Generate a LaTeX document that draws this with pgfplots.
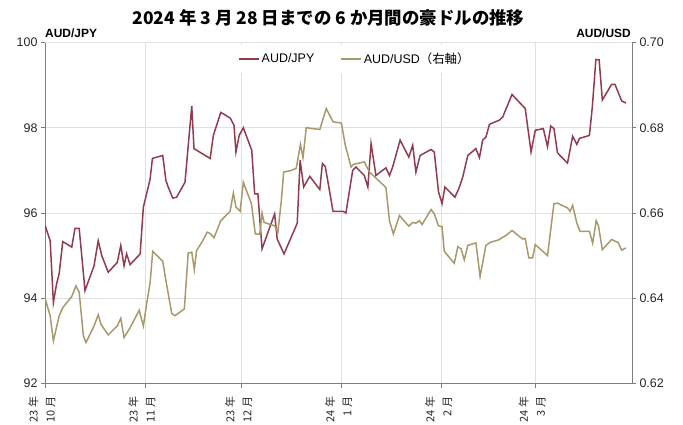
\documentclass[border=0pt]{standalone}
\usepackage{fontspec}
\setmainfont{Liberation Sans}
\newfontfamily\jp{Noto Sans CJK JP}
\usepackage{pgfplots}
\usepackage{pgfplotstable}
\pgfplotsset{compat=1.18}
\definecolor{jpy}{RGB}{145,60,78}
\definecolor{usd}{RGB}{168,153,108}
\definecolor{gridc}{RGB}{224,224,224}
\definecolor{axc}{RGB}{125,125,125}

\pgfplotstableread{
d v
0.0 95.71
1.6 95.35
2.6 93.90
3.6 94.34
4.4 94.58
5.5 95.33
8.3 95.20
9.3 95.64
10.6 95.64
12.4 94.18
15.2 94.76
16.5 95.35
17.6 95.00
19.6 94.61
22.4 94.84
23.5 95.24
24.5 94.76
25.3 95.04
26.4 94.79
29.5 95.04
30.5 96.14
31.5 96.45
32.6 96.80
33.3 97.28
36.5 97.35
37.5 96.76
38.2 96.61
39.6 96.35
40.8 96.37
43.4 96.72
45.5 98.51
46.2 97.51
51.2 97.28
52.2 97.82
54.5 98.36
57.4 98.23
58.6 98.06
59.2 97.43
60.2 97.82
61.5 98.00
64.1 97.47
65.0 96.45
66.0 96.45
67.3 95.16
71.2 95.98
72.0 95.39
74.1 95.04
78.2 95.76
79.1 97.24
80.2 96.61
82.1 96.86
85.2 96.55
86.0 97.16
86.9 97.09
89.3 96.04
92.4 96.04
93.3 96.00
95.4 97.00
96.4 97.08
99.0 96.88
100.1 96.61
101.1 97.63
102.6 96.88
105.7 97.06
106.8 96.88
107.8 97.08
110.1 97.71
112.8 97.31
114.0 97.59
115.0 96.96
116.3 97.35
119.7 97.49
120.7 97.43
122.0 96.50
123.1 96.22
124.0 96.61
127.1 96.37
128.5 96.61
129.5 96.84
131.1 97.35
133.6 97.51
134.7 97.30
135.7 97.71
136.7 97.78
137.8 98.08
140.9 98.18
141.9 98.25
144.8 98.78
148.9 98.45
150.7 97.43
152.0 97.94
154.5 97.98
155.8 97.56
156.8 98.04
157.8 97.98
158.9 97.41
162.0 97.17
163.6 97.80
164.9 97.61
165.7 97.75
168.8 97.82
169.7 98.49
170.8 99.60
171.8 99.60
172.8 98.65
175.7 99.02
176.7 99.02
178.8 98.63
180.1 98.58
}\jpydata

\pgfplotstableread{
d v
0.0 0.6400
1.6 0.6359
2.6 0.6300
4.4 0.6359
5.5 0.6378
8.3 0.6404
9.6 0.6429
10.6 0.6414
11.9 0.6312
12.7 0.6296
15.2 0.6335
16.5 0.6361
17.4 0.6338
19.6 0.6314
22.4 0.6335
23.5 0.6353
24.5 0.6308
26.4 0.6331
29.2 0.6372
30.5 0.6335
31.5 0.6386
32.6 0.6437
33.4 0.6510
36.5 0.6487
37.5 0.6441
39.3 0.6364
40.3 0.6359
43.2 0.6375
44.4 0.6506
45.5 0.6508
46.3 0.6467
47.0 0.6512
48.6 0.6531
50.3 0.6555
51.2 0.6552
52.4 0.6542
54.5 0.6582
57.4 0.6604
58.4 0.6647
59.2 0.6614
60.5 0.6604
61.5 0.6672
64.0 0.6622
65.2 0.6551
66.6 0.6550
67.3 0.6600
67.9 0.6578
69.1 0.6575
71.2 0.6570
72.2 0.6555
73.3 0.6631
74.0 0.6696
76.4 0.6700
77.9 0.6705
79.2 0.6761
80.0 0.6730
81.0 0.6800
85.2 0.6796
87.2 0.6845
89.3 0.6814
91.9 0.6811
93.1 0.6759
94.9 0.6708
95.6 0.6714
99.0 0.6720
100.6 0.6696
105.7 0.6660
106.8 0.6582
108.0 0.6551
109.9 0.6594
112.8 0.6569
114.0 0.6578
115.0 0.6576
116.1 0.6582
116.9 0.6573
119.7 0.6608
120.7 0.6598
122.0 0.6570
123.1 0.6568
123.8 0.6510
126.9 0.6482
128.0 0.6521
129.0 0.6516
130.0 0.6490
131.1 0.6524
133.6 0.6530
134.9 0.6451
136.7 0.6524
138.0 0.6531
140.7 0.6537
141.9 0.6543
142.9 0.6547
144.8 0.6559
148.1 0.6539
148.9 0.6540
150.0 0.6495
151.2 0.6495
152.0 0.6526
155.8 0.6500
157.8 0.6622
158.9 0.6623
162.0 0.6612
162.8 0.6604
163.6 0.6618
164.9 0.6576
165.9 0.6557
168.8 0.6557
169.8 0.6529
170.9 0.6582
171.6 0.6570
172.8 0.6514
175.7 0.6538
176.7 0.6534
177.7 0.6531
178.8 0.6513
180.1 0.6518
}\usddata

\begin{document}
\begin{tikzpicture}
\path[use as bounding box] (-45bp,-41.5bp) rectangle (638bp,383.5bp);
\pgfplotsset{
  common/.style={
    scale only axis, width=587bp, height=341bp,
    xmin=0, xmax=182,
    /pgf/number format/assume math mode=true,
    axis line style={axc, line width=0.8bp},
    tick style={axc, line width=0.8bp},
    major tick length=4bp,
    tick align=outside,
    tick label style={font=\fontsize{12.5}{14}\selectfont, text=black!85},
  }
}
\begin{axis}[common,
  ymin=92, ymax=100,
  axis x line*=bottom, axis y line*=left,
  xtick={0,31,61,92,123,152},
  xticklabels={{23 年\\10 月},{23 年\\11 月},{23 年\\12 月},{24 年\\1 月},{24 年\\2 月},{24 年\\3 月}},
  x tick label style={xshift=-3bp, yshift=-6bp, rotate=90, anchor=east, align=right, font=\jp\fontsize{11}{17}\selectfont},
  ytick={92,94,96,98,100},
  grid=major, major grid style={gridc, line width=0.6bp},
]
\addplot[jpy, line width=1.5bp] table[x=d, y=v] {\jpydata};
\end{axis}
\begin{axis}[common,
  ymin=0.62, ymax=0.70,
  axis y line*=right, axis x line=none,
  ytick={0.62,0.64,0.66,0.68,0.70},
  yticklabel style={/pgf/number format/.cd, fixed, fixed zerofill, precision=2},
  legend columns=2,
  legend style={at={(0.528,0.993)}, anchor=north, draw=none, fill=white,
    font=\fontsize{12.5}{14}\selectfont, inner xsep=6bp, inner ysep=6bp,
    /tikz/every even column/.append style={column sep=24bp}},
  legend image code/.code={\draw[#1] (0bp,0bp) -- (20bp,0bp);},
]
\addlegendimage{jpy, line width=1.5bp}
\addlegendentry{AUD/JPY}
\addplot[usd, line width=1.5bp] table[x=d, y=v] {\usddata};
\addlegendentry{AUD/USD{\jp （右軸）}}
\end{axis}
\node[font=\jp\bfseries\fontsize{17.5}{20}\selectfont] at (283.5bp,365.5bp) {2024 年 3 月 28 日までの 6 か月間の豪ドルの推移};
\node[font=\bfseries\fontsize{12}{14}\selectfont, anchor=west, inner sep=0pt] at (0bp,350.5bp) {AUD/JPY};
\node[font=\bfseries\fontsize{12}{14}\selectfont, anchor=east, inner sep=0pt] at (586bp,350.5bp) {AUD/USD};
\end{tikzpicture}
\end{document}
